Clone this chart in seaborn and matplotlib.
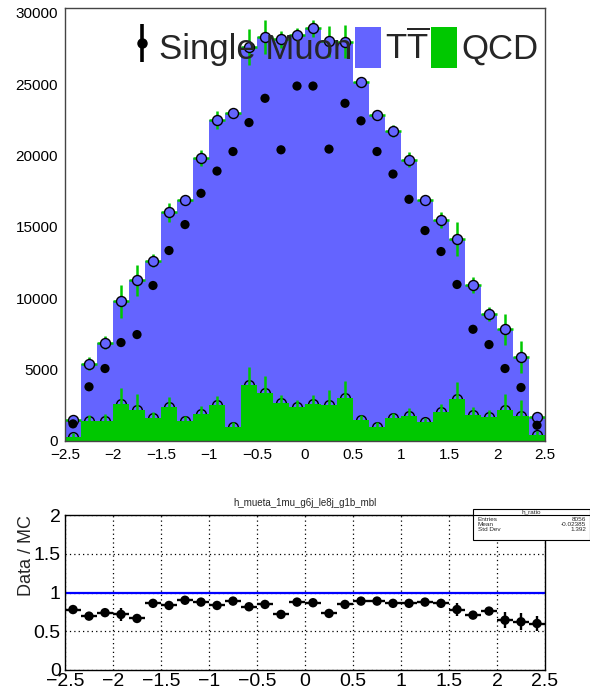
import numpy as np
import pandas as pd
import matplotlib
matplotlib.use("Agg")
import matplotlib.pyplot as plt
import seaborn as sns
from matplotlib.patches import Patch, Rectangle
from matplotlib.lines import Line2D
from matplotlib.ticker import MultipleLocator, FixedLocator

# ---------------- data ----------------
eta_lo, eta_hi, n_bins = -2.5, 2.5, 30

qcd_counts = [300, 1400, 1400, 2560, 2170, 1590, 2400, 1420, 1890, 2520,
              1000, 3960, 3330, 2630, 2400, 2590, 2520, 3030, 1470, 1000,
              1590, 1770, 1300, 2050, 2910, 1820, 1660, 2170, 1750, 400]
tt_counts = [1180, 4030, 5500, 7230, 9080, 11060, 13630, 15500, 17940, 19990,
             21970, 23670, 25000, 25540, 26080, 26330, 25510, 24950, 23720, 21850,
             20150, 17940, 15600, 13430, 11240, 9130, 7260, 5660, 4140, 1300]
data_counts = [1200, 3800, 5080, 6900, 7460, 10900, 13350, 15170, 17360, 18920,
               20290, 22320, 24020, 20410, 24880, 24880, 20460, 23670, 22440, 20290,
               18710, 16940, 14750, 13280, 10970, 7830, 6760, 5080, 3750, 1100]
mc_err = [250, 450, 480, 1150, 1100, 470, 650, 330, 550, 650,
          300, 1250, 1200, 600, 450, 600, 1080, 1150, 350, 300,
          400, 520, 300, 570, 1200, 550, 500, 1100, 1100, 300]

ratio_vals = [0.78, 0.695, 0.74, 0.717, 0.665, 0.86, 0.833, 0.90, 0.876, 0.833,
              0.889, 0.816, 0.846, 0.717, 0.876, 0.868, 0.73, 0.846, 0.889, 0.889,
              0.86, 0.86, 0.876, 0.86, 0.78, 0.708, 0.76, 0.643, 0.622, 0.60]
ratio_err = [0.05, 0.03, 0.03, 0.08, 0.04, 0.03, 0.03, 0.02, 0.03, 0.03,
             0.02, 0.04, 0.04, 0.03, 0.02, 0.03, 0.04, 0.04, 0.02, 0.02,
             0.02, 0.03, 0.02, 0.03, 0.08, 0.03, 0.03, 0.10, 0.11, 0.10]

x_ticks = [-2.5, -2, -1.5, -1, -0.5, 0, 0.5, 1, 1.5, 2, 2.5]
x_tick_labels = ["\u22122.5", "\u22122", "\u22121.5", "\u22121", "\u22120.5", "0",
                 "0.5", "1", "1.5", "2", "2.5"]
top_yticks = [0, 5000, 10000, 15000, 20000, 25000, 30000]
ratio_yticks = [0, 0.5, 1, 1.5, 2]
ratio_ytick_labels = ["0", "0.5", "1", "1.5", "2"]
legend_labels = ["Single Muon", r"T$\overline{\mathrm{T}}$", "QCD"]
hist_title = "h_mueta_1mu_g6j_le8j_g1b_mbl"
stats_name = "h_ratio"
stats_rows = [("Entries", "8056"), ("Mean", "-0.02385"), ("Std Dev", "1.392")]
ratio_ylabel = "Data / MC"

BLUE = "#6464ff"
GREEN = "#00c800"

# ---------------- style ----------------
sns.set_theme(style="white")
plt.rcParams["font.family"] = ["Liberation Sans", "DejaVu Sans"]
plt.rcParams["mathtext.fontset"] = "custom"
plt.rcParams["mathtext.rm"] = "Liberation Sans"
plt.rcParams["axes.unicode_minus"] = True

W, H = 590, 696
fig = plt.figure(figsize=(W / 100, H / 100), dpi=100)


def fx(px):
    return px / W


def fy(py):
    return 1 - py / H


ax = fig.add_axes([fx(65), fy(441), fx(545) - fx(65), fy(8) - fy(441)])
rax = fig.add_axes([fx(65), fy(670), fx(545) - fx(65), fy(515) - fy(670)])

edges = np.linspace(eta_lo, eta_hi, n_bins + 1)
centers = 0.5 * (edges[:-1] + edges[1:])
half = 0.5 * (edges[1] - edges[0])

qcd = np.array(qcd_counts, dtype=float)
tt = np.array(tt_counts, dtype=float)
mc_total = tt + qcd  # stacked: TT on top of QCD

df = pd.DataFrame({"eta": centers, "total": mc_total, "qcd": qcd})

# stacked histogram: full stack (blue, TT on top) then QCD (green) at the bottom
sns.histplot(data=df, x="eta", weights="total", bins=n_bins,
             binrange=(eta_lo, eta_hi), element="step", fill=True, alpha=1,
             linewidth=0, color=BLUE, ax=ax, zorder=1)
sns.histplot(data=df, x="eta", weights="qcd", bins=n_bins,
             binrange=(eta_lo, eta_hi), element="step", fill=True, alpha=1,
             linewidth=0, color=GREEN, ax=ax, zorder=2)
green_rgb = np.array(matplotlib.colors.to_rgb(GREEN))
for coll in ax.collections:
    fc = np.array(coll.get_facecolor())
    if len(fc) and np.allclose(fc[0][:3], green_rgb, atol=0.02):
        coll.set_zorder(2)
    else:
        coll.set_zorder(1)

# QCD markers (lower half hidden by the green fill)
ax.plot(centers, qcd, "o", mfc="none", mec="black", ms=7, mew=1.0, zorder=1.5)
# error bars
ax.errorbar(centers, qcd, yerr=mc_err, fmt="none", ecolor=GREEN,
            elinewidth=1.8, capsize=0, zorder=3)
ax.errorbar(centers, mc_total, xerr=half, yerr=mc_err, fmt="none", ecolor=GREEN,
            elinewidth=1.8, capsize=0, zorder=3)
ax.plot(centers, mc_total, "o", mfc=BLUE, mec="black", ms=7.2, mew=1.0, zorder=4)
sns.scatterplot(x=centers, y=data_counts, color="black", s=44, edgecolor="none",
                zorder=5, ax=ax, legend=False)

ax.set_xlim(eta_lo, eta_hi)
ax.set_ylim(0, 30350)
ax.set_xlabel("")
ax.set_ylabel("")
ax.set_axisbelow(True)
ax.xaxis.set_major_locator(FixedLocator(x_ticks))
ax.set_xticklabels(x_tick_labels)
ax.xaxis.set_minor_locator(MultipleLocator(0.1))
ax.yaxis.set_major_locator(FixedLocator(top_yticks))
ax.set_yticklabels([str(v) for v in top_yticks])
ax.yaxis.set_minor_locator(MultipleLocator(1000))
ax.tick_params(axis="both", which="both", direction="in", colors="#444444",
               labelcolor="black", labelsize=11, top=False, right=False)
ax.tick_params(axis="y", which="major", length=10.8, width=0.8, pad=5)
ax.tick_params(axis="y", which="minor", length=5.5, width=0.8)
ax.tick_params(axis="x", which="major", length=9, width=0.8, pad=5)
ax.tick_params(axis="x", which="minor", length=4.5, width=0.8)
for sp in ax.spines.values():
    sp.set_color("#444444")
    sp.set_linewidth(1.0)
    sp.set_zorder(6)

# legend
data_handle = (Line2D([0], [0], marker="|", ms=28, mew=2.6, color="black", ls="none"),
               Line2D([0], [0], marker="o", ms=6.5, color="black", ls="none"))
handles = [data_handle, Patch(fc=BLUE, ec="none"), Patch(fc=GREEN, ec="none")]
leg = ax.legend(handles, legend_labels, ncol=3, loc="upper left",
                bbox_to_anchor=(fx(129), fy(27)), bbox_transform=fig.transFigure,
                frameon=False, fontsize=25, handlelength=0.75, handleheight=1.42,
                handletextpad=0.12, columnspacing=0.06, borderpad=0, borderaxespad=0)
leg.set_zorder(10)

# ---------------- ratio panel ----------------
rax.axhline(1.0, color="#0000ff", lw=1.6, zorder=2)
rax.errorbar(centers, ratio_vals, xerr=half, yerr=ratio_err, fmt="none",
             ecolor="black", elinewidth=1.7, capsize=0, zorder=3)
sns.scatterplot(x=centers, y=ratio_vals, color="black", s=46, edgecolor="none",
                zorder=4, ax=rax, legend=False)
rax.set_xlim(eta_lo, eta_hi)
rax.set_ylim(0, 2)
rax.xaxis.set_major_locator(FixedLocator(x_ticks))
rax.set_xticklabels(x_tick_labels)
rax.xaxis.set_minor_locator(MultipleLocator(0.1))
rax.yaxis.set_major_locator(FixedLocator(ratio_yticks))
rax.set_yticklabels(ratio_ytick_labels)
rax.yaxis.set_minor_locator(MultipleLocator(0.25))
rax.grid(True, which="major", linestyle=(0, (1, 2.5)), color="black", lw=0.9)
rax.tick_params(axis="both", which="both", direction="in", colors="black",
                labelsize=14, top=False, right=False)
rax.tick_params(axis="y", which="major", length=10.8, width=0.8, pad=3)
rax.tick_params(axis="y", which="minor", length=5.5, width=0.8)
rax.tick_params(axis="x", which="major", length=6, width=0.8, pad=2)
rax.tick_params(axis="x", which="minor", length=3, width=0.8)
for sp in rax.spines.values():
    sp.set_color("black")
    sp.set_linewidth(1.0)
rax.set_ylabel(ratio_ylabel, fontsize=13, loc="top")
rax.yaxis.set_label_coords(-0.062, 1.0)

# histogram title
fig.text(fx(305), fy(503), hist_title, fontsize=7, ha="center", va="center")

# stats box
bx0, bx1, by0, by1, bsep = 472.5, 589.5, 508.5, 539.5, 515.0
fig.patches.append(Rectangle((fx(bx0), fy(by1)), fx(bx1) - fx(bx0), fy(by0) - fy(by1),
                             transform=fig.transFigure, fc="white", ec="black",
                             lw=0.8, zorder=5))
fig.lines.append(Line2D([fx(bx0), fx(bx1)], [fy(bsep), fy(bsep)],
                        transform=fig.transFigure, color="black", lw=0.8, zorder=6))
fig.text(fx(0.5 * (bx0 + bx1)), fy(511.8), stats_name, fontsize=4.6, ha="center",
         va="center", zorder=7)
for i, (lab, val) in enumerate(stats_rows):
    yy = 519.8 + i * 5.0
    fig.text(fx(478), fy(yy), lab, fontsize=4.6, ha="left", va="center", zorder=7)
    fig.text(fx(586), fy(yy), val, fontsize=4.6, ha="right", va="center", zorder=7)

fig.savefig("out.png", dpi=100)
